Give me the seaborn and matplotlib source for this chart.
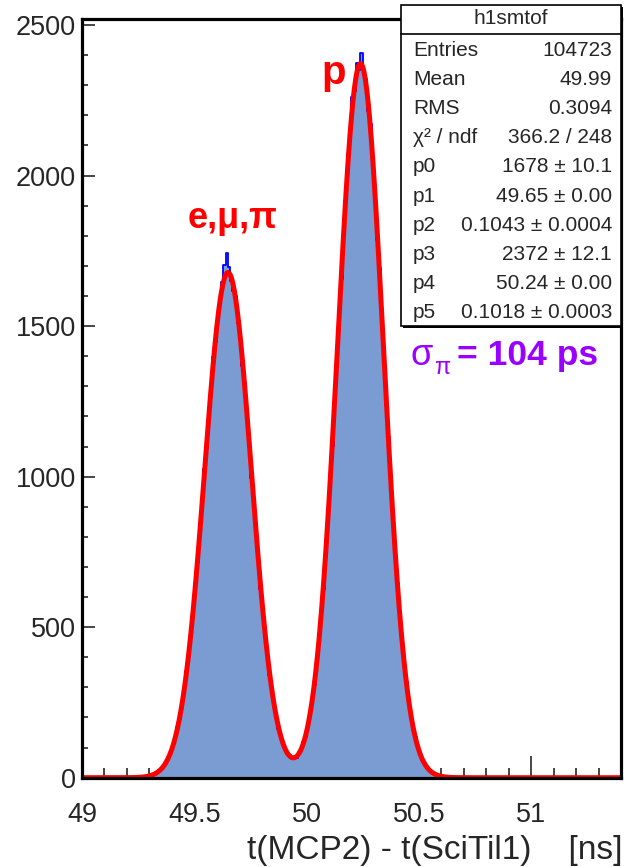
import numpy as np
import pandas as pd
import matplotlib
matplotlib.use("Agg")
import matplotlib.pyplot as plt
from matplotlib.patches import Rectangle
from matplotlib.lines import Line2D
import seaborn as sns

# ---- histogram h1smtof: 240 bins of 10 ps between 49.0 and 51.4 ns ----
bin_lo, bin_hi, bin_w = 49.0, 51.4, 0.01
counts = [
    0, 0, 0, 0, 0, 0, 0, 0, 0, 0, 0, 0, 0, 0, 0, 0, 0, 0, 0, 0, 0, 1, 0, 0, 1,
    1, 2, 2, 4, 6, 8, 9, 14, 17, 24,
    30, 42, 50, 70, 81, 110, 129, 169, 196, 248,
    287, 356, 405, 489, 548, 646, 718, 829, 905, 1024,
    1096, 1218, 1284, 1397, 1448, 1541, 1573, 1648, 1702, 1742,
    1695, 1650, 1618, 1601, 1510, 1471, 1367, 1310, 1190, 1121,
    997, 925, 806, 738, 627, 565, 471, 418, 342, 298,
    240, 209, 161, 142, 110, 98, 79, 74, 64, 69,
    66, 84, 90, 118, 134, 176, 205, 263, 309, 388,
    449, 551, 627, 757, 848, 998, 1101, 1270, 1380, 1551,
    1658, 1829, 1912, 2073, 2130, 2262, 2281, 2375, 2352, 2407,
    2338, 2320, 2214, 2170, 2031, 1958, 1786, 1693, 1520, 1411,
    1237, 1131, 972, 871, 733, 648, 530, 462, 371, 318,
    249, 211, 160, 135, 99, 83, 58, 49, 34, 28,
    19, 15, 10, 8, 5, 4, 3, 2, 1, 1,
] + [0] * 75

# ---- double-gaussian fit parameters (p0..p5) ----
fit_params = [1678.0, 49.65, 0.1043, 2372.0, 50.24, 0.1018]
fit_errors = ["10.1", "0.00", "0.0004", "12.1", "0.00", "0.0003"]
fit_labels = ["1678", "49.65", "0.1043", "2372", "50.24", "0.1018"]

stat_names = ["Entries", "Mean", "RMS", "χ² / ndf"]
stat_values = ["104723", "49.99", "0.3094", "366.2 / 248"]
hist_name = "h1smtof"

x_ticks = [49, 49.5, 50, 50.5, 51]
x_tick_labels = ["49", "49.5", "50", "50.5", "51"]
y_ticks = [0, 500, 1000, 1500, 2000, 2500]

edges = [round(bin_lo + i * bin_w, 4) for i in range(len(counts) + 1)]
centers = [e + bin_w / 2 for e in edges[:-1]]
hist_df = pd.DataFrame({"t": centers, "n": counts})

xs = np.linspace(bin_lo, bin_hi, 1200)
p0, p1, p2, p3, p4, p5 = fit_params
fit_df = pd.DataFrame({
    "t": xs,
    "f": p0 * np.exp(-0.5 * ((xs - p1) / p2) ** 2) + p3 * np.exp(-0.5 * ((xs - p4) / p5) ** 2),
})

sns.set_style("ticks")
plt.rcParams["font.family"] = ["Liberation Sans", "DejaVu Sans"]

W, H = 624, 867
fig = plt.figure(figsize=(W / 100, H / 100), dpi=100)


def fx(x):
    return x / W


def fy(y):
    return 1 - y / H


ax_l, ax_r, ax_t, ax_b = 82, 621, 19, 777.7
ax_w, ax_h = ax_r - ax_l, ax_b - ax_t
ax = fig.add_axes([fx(ax_l), fy(ax_b), ax_w / W, ax_h / H])

fill_c = "#7b9bd3"
sns.histplot(data=hist_df, x="t", weights="n", bins=edges, element="bars",
             fill=True, color=fill_c, alpha=1, linewidth=0, ax=ax)
sns.histplot(data=hist_df, x="t", weights="n", bins=edges, element="step",
             fill=False, color="#0000ff", linewidth=1.3, ax=ax)
sns.lineplot(data=fit_df, x="t", y="f", color="#ff0000", linewidth=3.6, ax=ax)

ax.set_xlim(bin_lo, bin_hi)
ax.set_ylim(0, 2520)
ax.set_xticks(x_ticks)
ax.set_xticklabels(x_tick_labels)
ax.set_yticks(y_ticks)
ax.set_xticks(np.arange(49.0, 51.41, 0.1), minor=True)
ax.set_yticks(np.arange(0, 2521, 100), minor=True)

for s in ax.spines.values():
    s.set_linewidth(2.3)
    s.set_color("black")
    s.set_visible(True)

ax.tick_params(axis="x", which="major", direction="in", length=16, width=1.2,
               pad=17.5, labelsize=19.5)
ax.tick_params(axis="x", which="minor", direction="in", length=7, width=1.2)
ax.tick_params(axis="y", which="major", direction="in", length=9, width=1.2,
               pad=4.5, labelsize=19.5)
ax.tick_params(axis="y", which="minor", direction="in", length=4.5, width=1.2)
ax.set_ylabel("")
ax.set_xlabel("t(MCP2) - t(SciTil1)    [ns]", fontsize=24, loc="right")
ax.xaxis.label.set_verticalalignment("top")
ax.xaxis.set_label_coords(1 + 1.5 / ax_w, -(835 - ax_b) / ax_h)

# peak labels
ax.text(50.12, 2340, "p", color="#ff0000", fontsize=29, fontweight="bold",
        ha="center", va="center")
ax.text(49.671, 1859, "e,μ,π", color="#ff0000", fontsize=26, fontweight="bold",
        ha="center", va="center")

# statistics box
bx0, by0, bx1, by1 = 401, 5, 621, 326
fig.add_artist(Rectangle((fx(bx0 + 2), fy(by1 + 2)), (bx1 - bx0) / W, (by1 - by0) / H,
                         transform=fig.transFigure, facecolor="black",
                         edgecolor="black", linewidth=0, zorder=10))
fig.add_artist(Rectangle((fx(bx0), fy(by1)), (bx1 - bx0) / W, (by1 - by0) / H,
                         transform=fig.transFigure, facecolor="white",
                         edgecolor="black", linewidth=1.2, zorder=11))
fig.add_artist(Line2D([fx(bx0), fx(bx1)], [fy(34), fy(34)], transform=fig.transFigure,
                      color="black", linewidth=1.2, zorder=12))
fig.text(fx((bx0 + bx1) / 2), fy(19), hist_name, fontsize=15, ha="center", va="center",
         zorder=13)

names = stat_names + [f"p{i}" for i in range(6)]
values = stat_values + [f"{v} ± {e}" for v, e in zip(fit_labels, fit_errors)]
row_y = 50
for name, val in zip(names, values):
    fig.text(fx(413), fy(row_y), name, fontsize=15, ha="left", va="center", zorder=13)
    fig.text(fx(612), fy(row_y), val, fontsize=15, ha="right", va="center", zorder=13)
    row_y += 29.2

# resolution annotation
violet = "#9900ff"
fig.text(fx(411), fy(356), "σ", color=violet, fontsize=26, ha="left", va="center")
fig.text(fx(434), fy(368), "π", color=violet, fontsize=17, ha="left", va="center")
fig.text(fx(457), fy(356), "= 104 ps", color=violet, fontsize=25.5, fontweight="bold",
         ha="left", va="center")

fig.savefig("out.png", dpi=100)
